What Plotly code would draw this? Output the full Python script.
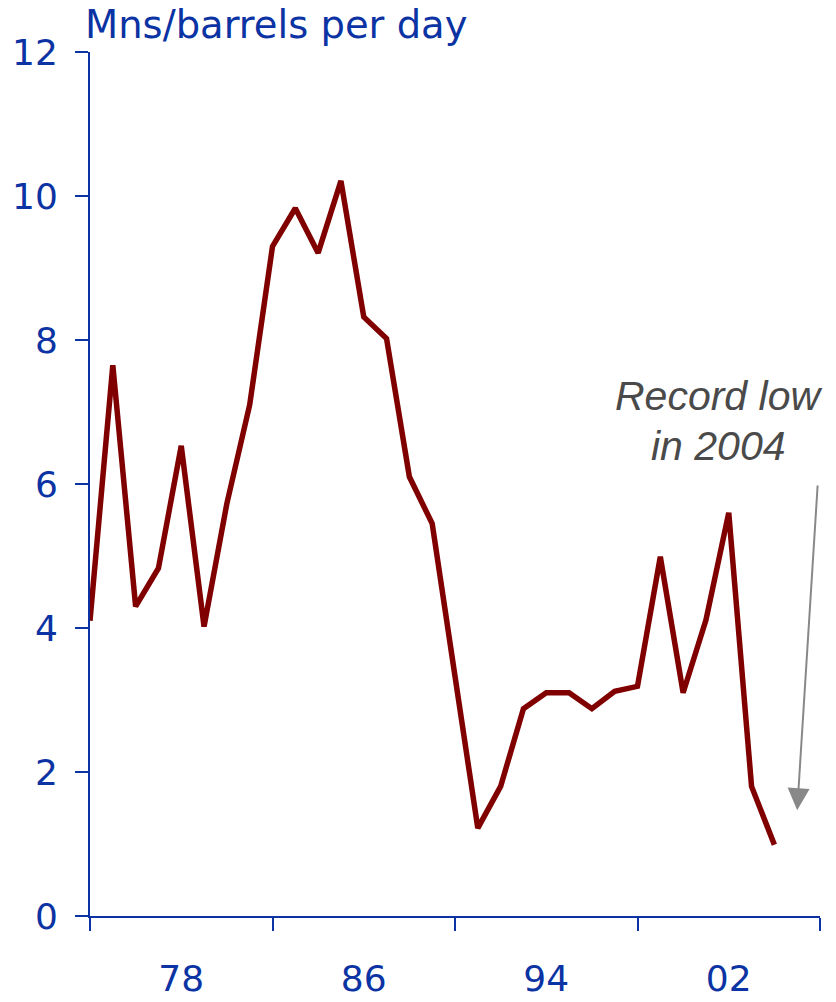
import plotly.graph_objects as go

# Annual values, 1974-2004 (millions of barrels per day)
years = list(range(1974, 2005))
values = [4.1, 7.65, 4.3, 4.83, 6.53, 4.02, 5.73, 7.1, 9.3, 9.83,
          9.21, 10.21, 8.32, 8.02, 6.1, 5.45, 3.33, 1.22, 1.8, 2.88,
          3.1, 3.1, 2.88, 3.12, 3.19, 4.99, 3.1, 4.11, 5.6, 1.8, 0.99]

label_years = [1978, 1986, 1994, 2002]
label_text = ["78", "86", "94", "02"]
boundary_years = [1974, 1982, 1990, 1998, 2006]
y_ticks = [0, 2, 4, 6, 8, 10, 12]

BLUE = "#0b33a3"
MAROON = "#800000"
GREY_TEXT = "#4a4a4a"
GREY_ARROW = "#888888"
FONT = "DejaVu Sans"

fig = go.Figure()
fig.add_trace(go.Scatter(
    x=years, y=values, mode="lines",
    line=dict(color=MAROON, width=5.5, shape="linear"),
    hoverinfo="skip", showlegend=False,
))

fig.update_layout(
    width=836, height=1002,
    margin=dict(l=90, r=16, t=52, b=86),
    paper_bgcolor="white", plot_bgcolor="white",
    font=dict(family=FONT, color=BLUE, size=36),
    xaxis=dict(
        range=[1974, 2006], showgrid=False, zeroline=False, automargin=False,
        showline=True, linecolor=BLUE, linewidth=2,
        tickmode="array", tickvals=label_years, ticktext=label_text,
        ticks="", ticklabelstandoff=30,
        tickfont=dict(family=FONT, size=36, color=BLUE),
        minor=dict(tickmode="array", tickvals=boundary_years,
                   ticks="outside", ticklen=13, tickwidth=2, tickcolor=BLUE,
                   showgrid=False),
    ),
    yaxis=dict(
        range=[0, 12], showgrid=False, zeroline=False, automargin=False,
        showline=True, linecolor=BLUE, linewidth=2,
        tickmode="array", tickvals=y_ticks,
        ticks="outside", ticklen=13, tickwidth=2, tickcolor=BLUE,
        ticklabelstandoff=10,
        tickfont=dict(family=FONT, size=36, color=BLUE),
    ),
)

# Unit label above the value axis
fig.add_annotation(
    text="Mns/barrels per day", xref="paper", yref="paper",
    x=-0.0096, y=1.06, xanchor="left", yanchor="top", showarrow=False,
    font=dict(family=FONT, size=38.5, color=BLUE),
)

# Callout for the 2004 low
fig.add_annotation(
    text="<i>Record low</i>", xref="x", yref="y",
    x=2001.55, y=(916 - 396) / 72, xanchor="center", yanchor="middle",
    showarrow=False,
    font=dict(family="Liberation Sans", size=41, color=GREY_TEXT),
)
fig.add_annotation(
    text="<i>in 2004</i>", xref="x", yref="y",
    x=2001.55, y=(916 - 446) / 72, xanchor="center", yanchor="middle",
    showarrow=False,
    font=dict(family="Liberation Sans", size=41, color=GREY_TEXT),
)
fig.add_annotation(
    x=2005.0, y=1.47, ax=2005.9, ay=6.0,
    xref="x", yref="y", axref="x", ayref="y",
    text="", showarrow=True, arrowhead=2, arrowsize=2.2, arrowwidth=2,
    arrowcolor=GREY_ARROW,
)

fig.write_html("out.html")
